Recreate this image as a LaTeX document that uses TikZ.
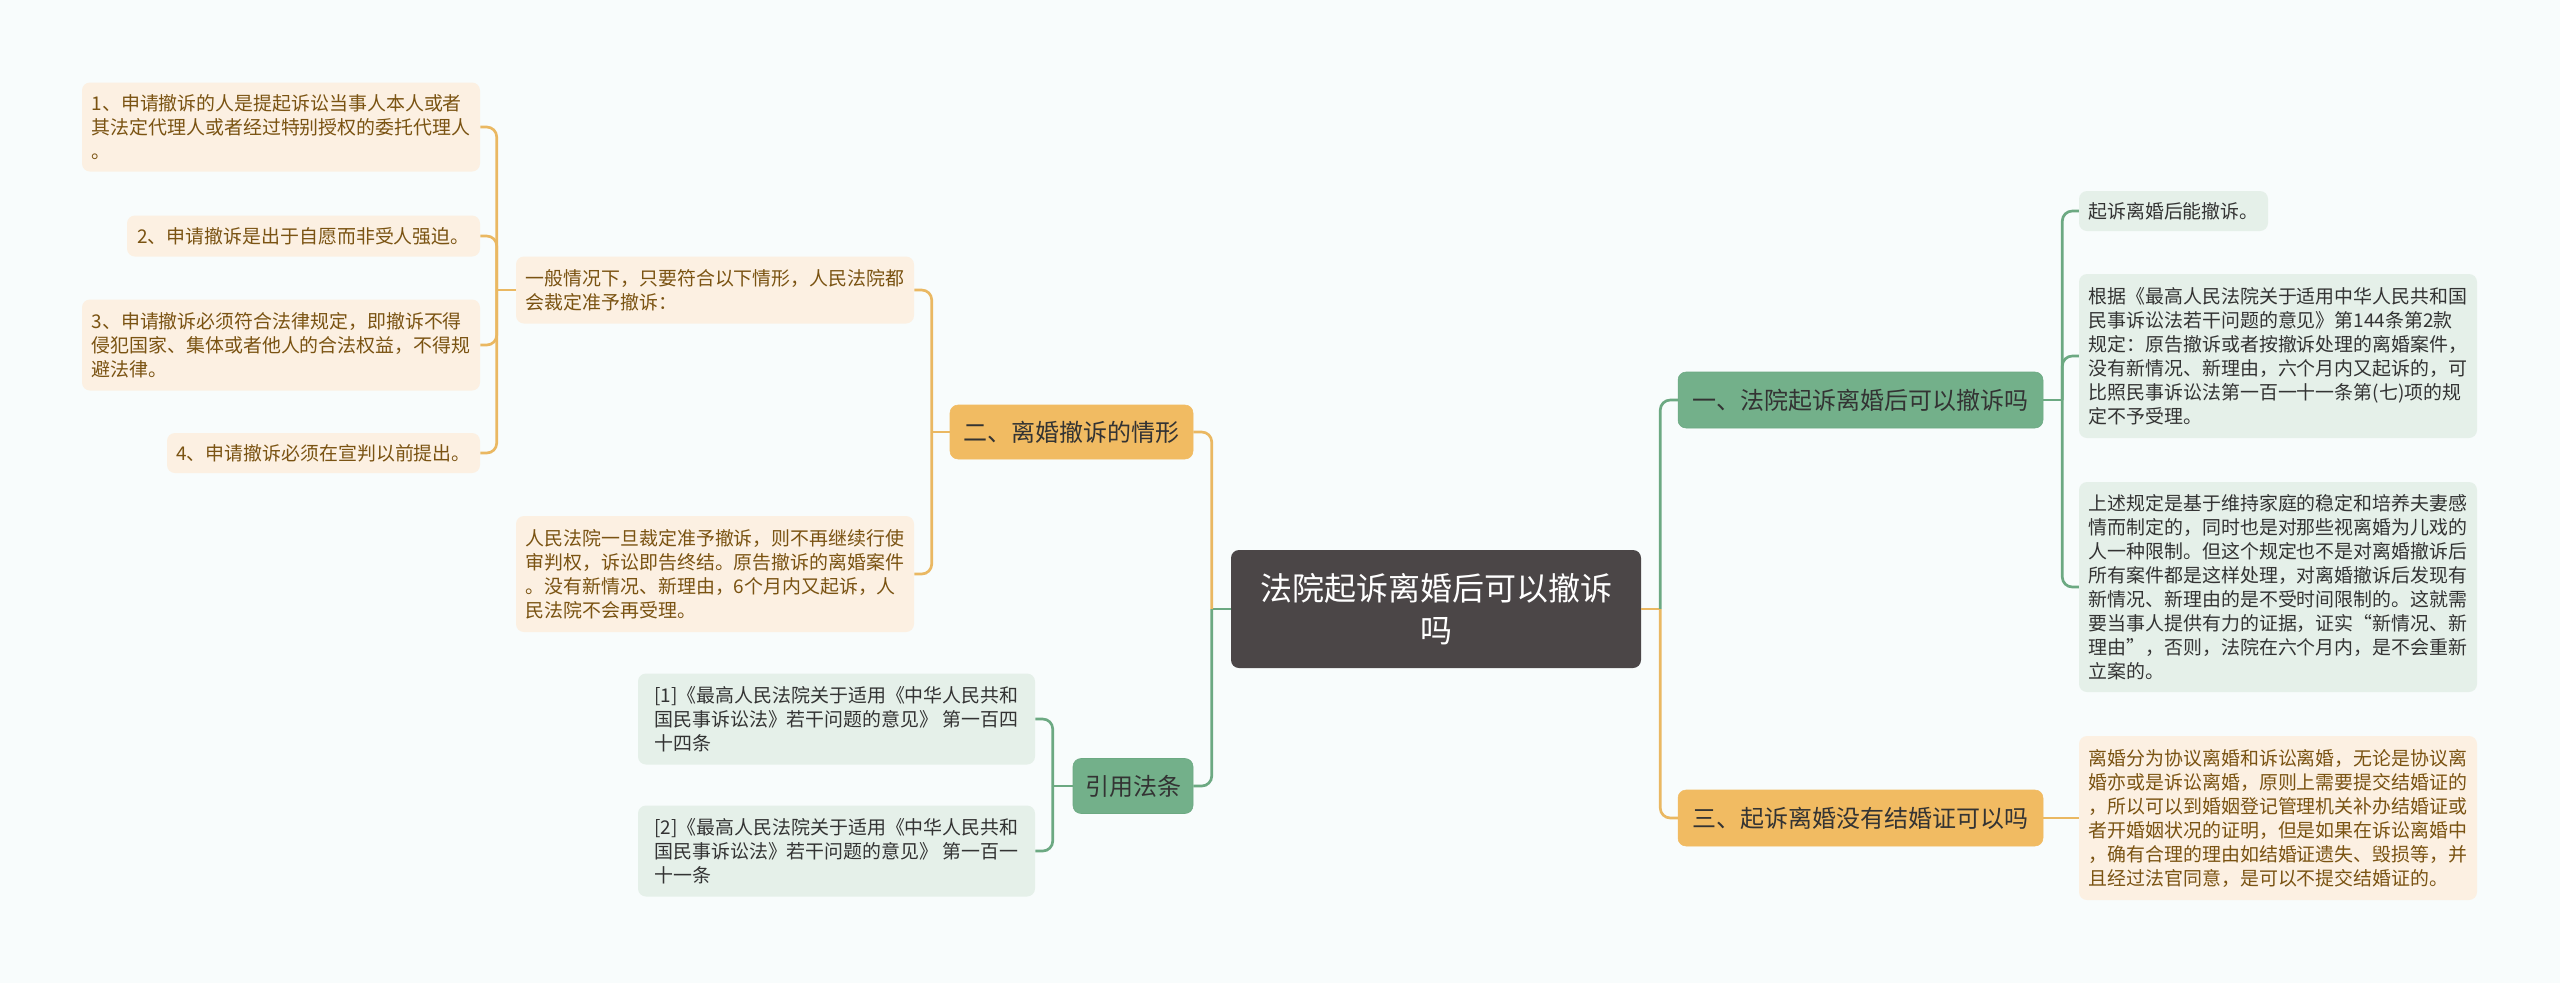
\documentclass[tikz,border=0pt]{standalone}
\usepackage{fontspec}
\usepackage{xcolor}
\usepackage{tikz}
\usetikzlibrary{calc}
\newfontfamily\zhfont{Noto Sans CJK SC}
\definecolor{mapbg}{HTML}{F8FCFC}
\definecolor{maproot}{HTML}{4B4647}
\definecolor{mapgreen}{HTML}{73B08A}
\definecolor{mapgreenline}{HTML}{6CA982}
\definecolor{mapgreenleaf}{HTML}{E5F0E9}
\definecolor{maporange}{HTML}{F1BB62}
\definecolor{maporangeline}{HTML}{EAB862}
\definecolor{maporangeleaf}{HTML}{FCF0E2}
\definecolor{mapbrown}{HTML}{7A5312}
\definecolor{mapdark}{HTML}{333333}

\begin{document}
\begin{tikzpicture}[
  x=0.75pt, y=-0.75pt,
  font=\zhfont,
  rootbox/.style={fill=maproot, text=white, rounded corners=6pt, align=center, inner sep=0pt,
                  font=\zhfont\fontsize{24pt}{31.5pt}\selectfont},
  greenmain/.style={fill=mapgreen, draw=mapgreenline, rounded corners=6pt, align=center, inner sep=0pt,
                    text=mapdark, font=\zhfont\fontsize{18pt}{22pt}\selectfont},
  orangemain/.style={greenmain, fill=maporange, draw=maporange},
  greenleaf/.style={fill=mapgreenleaf, rounded corners=6pt, align=left, inner sep=0pt,
                    text=mapdark, font=\zhfont\fontsize{14.2pt}{18pt}\selectfont},
  orangeleaf/.style={greenleaf, fill=maporangeleaf, text=mapbrown},
  gline/.style={draw=mapgreenline, line width=2pt, rounded corners=7.5pt},
  oline/.style={draw=maporangeline, line width=2pt, rounded corners=7.5pt}
]
\fill[mapbg] (0,0) rectangle (2560,983);
\useasboundingbox (0,0) rectangle (2560,983);
% ----- centre -----
\node[rootbox, minimum width=307.5pt, minimum height=88.5pt] (root) at (1436,609) {法院起诉离婚后可以撤诉\\吗};
% ----- right side -----
\node[greenmain, minimum width=273.75pt, minimum height=42pt] (sec1) at (1860.5,400) {一、法院起诉离婚后可以撤诉吗};
\node[orangemain, minimum width=273.75pt, minimum height=42pt] (sec3) at (1860.5,818) {三、起诉离婚没有结婚证可以吗};
\node[greenleaf, minimum width=141.75pt, minimum height=30pt] (s1a) at (2173.5,211) {起诉离婚后能撤诉。};
\node[greenleaf, minimum width=298.5pt, minimum height=123pt] (s1b) at (2278,356)
  {根据《最高人民法院关于适用中华人民共和国\\民事诉讼法若干问题的意见》第144条第2款\\规定：原告撤诉或者按撤诉处理的离婚案件，\\没有新情况、新理由，六个月内又起诉的，可\\比照民事诉讼法第一百一十一条第(七)项的规\\定不予受理。};
\node[greenleaf, minimum width=298.5pt, minimum height=157.5pt] (s1c) at (2278,587)
  {上述规定是基于维持家庭的稳定和培养夫妻感\\情而制定的，同时也是对那些视离婚为儿戏的\\人一种限制。但这个规定也不是对离婚撤诉后\\所有案件都是这样处理，对离婚撤诉后发现有\\新情况、新理由的是不受时间限制的。这就需\\要当事人提供有力的证据，证实“新情况、新\\理由”，否则，法院在六个月内，是不会重新\\立案的。};
\node[orangeleaf, minimum width=298.5pt, minimum height=123pt] (s3a) at (2278,818)
  {离婚分为协议离婚和诉讼离婚，无论是协议离\\婚亦或是诉讼离婚，原则上需要提交结婚证的\\，所以可以到婚姻登记管理机关补办结婚证或\\者开婚姻状况的证明，但是如果在诉讼离婚中\\，确有合理的理由如结婚证遗失、毁损等，并\\且经过法官同意，是可以不提交结婚证的。};
% ----- left side -----
\node[orangemain, minimum width=182.25pt, minimum height=40.5pt] (sec2) at (1071.5,432) {二、离婚撤诉的情形};
\node[orangeleaf, minimum width=298.5pt, minimum height=50.25pt] (sec2a) at (715,290)
  {一般情况下，只要符合以下情形，人民法院都\\会裁定准予撤诉：};
\node[orangeleaf, minimum width=298.5pt, minimum height=87pt] (sec2b) at (715,574)
  {人民法院一旦裁定准予撤诉，则不再继续行使\\审判权，诉讼即告终结。原告撤诉的离婚案件\\。没有新情况、新理由，6个月内又起诉，人\\民法院不会再受理。};
\node[orangeleaf, minimum width=298.5pt, minimum height=66.75pt] (item1) at (281,127)
  {1、申请撤诉的人是提起诉讼当事人本人或者\\其法定代理人或者经过特别授权的委托代理人\\。};
\node[orangeleaf, minimum width=264.75pt, minimum height=30.75pt] (item2) at (303.5,236)
  {2、申请撤诉是出于自愿而非受人强迫。};
\node[orangeleaf, minimum width=298.5pt, minimum height=68.25pt] (item3) at (281,345)
  {3、申请撤诉必须符合法律规定，即撤诉不得\\侵犯国家、集体或者他人的合法权益，不得规\\避法律。};
\node[orangeleaf, minimum width=234.75pt, minimum height=30pt] (item4) at (323.5,453)
  {4、申请撤诉必须在宣判以前提出。};
\node[greenmain, minimum width=90pt, minimum height=41.25pt] (sec4) at (1133,786) {引用法条};
\node[greenleaf, minimum width=297.75pt, minimum height=68.25pt] (ref1) at (836.5,719)
  {[1]《最高人民法院关于适用《中华人民共和\\国民事诉讼法》若干问题的意见》 第一百四\\十四条};
\node[greenleaf, minimum width=297.75pt, minimum height=68.25pt] (ref2) at (836.5,851)
  {[2]《最高人民法院关于适用《中华人民共和\\国民事诉讼法》若干问题的意见》 第一百一\\十一条};
% ----- junctions -----
\coordinate (rootL) at ($(root.west)+(-19,0)$);
\coordinate (rootR) at ($(root.east)+(19,0)$);
\coordinate (sec1j) at ($(sec1.east)+(19,0)$);
\coordinate (sec2j) at ($(sec2.west)+(-18,0)$);
\coordinate (sec2aj) at ($(sec2a.west)+(-19,0)$);
\coordinate (sec4j) at ($(sec4.west)+(-20,0)$);
% ----- connectors -----
\draw[gline] (root.west) -- (rootL);
\draw[oline] (rootL) |- (sec2.east);
\draw[gline] (rootL) |- (sec4.east);
\draw[oline] (root.east) -- (rootR);
\draw[gline] (rootR) |- (sec1.west);
\draw[oline] (rootR) |- (sec3.west);
\draw[gline] (sec1.east) -- (sec1j);
\foreach \n in {s1a, s1b, s1c}{\draw[gline] (sec1j) |- (\n.west);}
\draw[oline] (sec3.east) -- (s3a.west);
\draw[oline] (sec2.west) -- (sec2j);
\foreach \n in {sec2a, sec2b}{\draw[oline] (sec2j) |- (\n.east);}
\draw[oline] (sec2a.west) -- (sec2aj);
\foreach \n in {item1, item2, item3, item4}{\draw[oline] (sec2aj) |- (\n.east);}
\draw[gline] (sec4.west) -- (sec4j);
\foreach \n in {ref1, ref2}{\draw[gline] (sec4j) |- (\n.east);}
\end{tikzpicture}
\end{document}
